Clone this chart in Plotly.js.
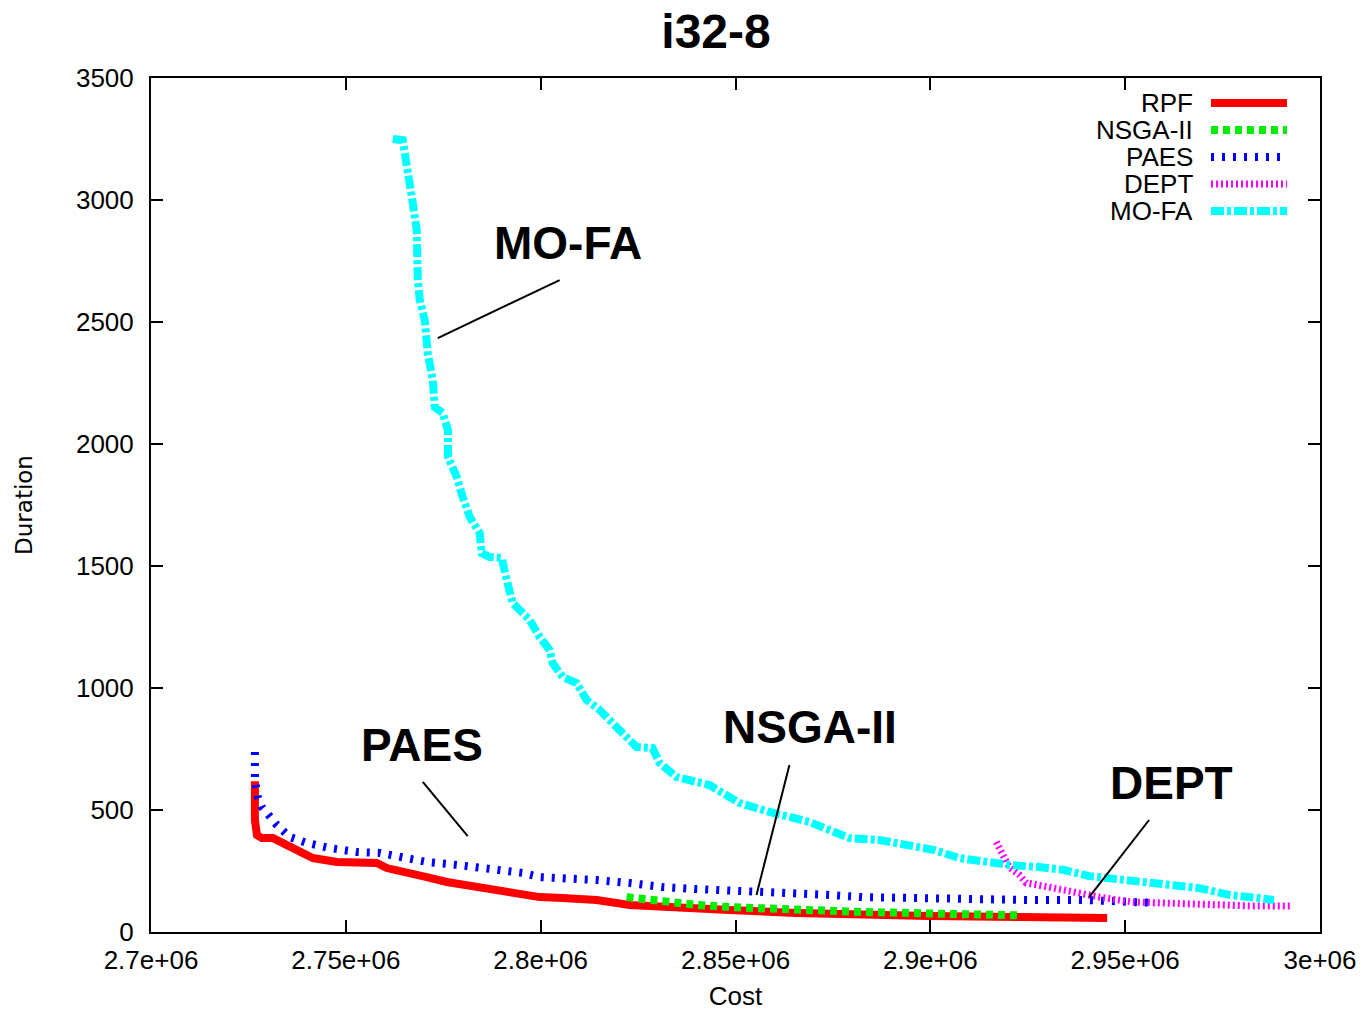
<!DOCTYPE html>
<html>
<head>
<meta charset="utf-8">
<script src="https://cdn.plot.ly/plotly-3.0.1.min.js"></script>
<style>html,body{margin:0;padding:0;background:#fff;}#chart{width:1364px;height:1011px;}</style>
</head>
<body>
<div id="chart"></div>
<script>
// ---- data ----
const rpfCost = [2726670, 2726670, 2727200, 2728460, 2731280, 2733850, 2738200, 2741540, 2747690, 2757950, 2760510, 2765640, 2770770, 2775900, 2784360, 2791280, 2799740, 2805640, 2814360, 2822820, 2835640, 2848460, 2865640, 2882560, 2899740, 2922820, 2945380];
const rpfDur  = [618, 459, 397, 385, 385, 365, 328, 303, 287, 283, 262, 246, 225, 205, 184, 164, 143, 139, 131, 111, 98, 90, 78, 70, 66, 61, 57];

const nsgaCost = [2822050, 2831280, 2840000, 2848460, 2865640, 2882560, 2899740, 2922820];
const nsgaDur  = [143, 123, 111, 102, 90, 82, 76, 68];

const paesCost = [2726670, 2726670, 2727440, 2728460, 2729740, 2732310, 2735640, 2740000, 2745900, 2752820, 2758720, 2763840, 2770770, 2778460, 2786920, 2795380, 2799740, 2805640, 2814360, 2822820, 2831280, 2840000, 2848460, 2856920, 2865640, 2874100, 2882560, 2891280, 2899740, 2909220, 2926150, 2939990, 2947680, 2957940];
const paesDur  = [738, 623, 553, 512, 488, 438, 389, 365, 344, 328, 324, 307, 287, 275, 262, 242, 225, 221, 213, 201, 184, 176, 172, 164, 160, 152, 143, 139, 139, 135, 131, 131, 123, 119];

const deptCost = [2916910, 2918450, 2920250, 2922820, 2924610, 2930500, 2936400, 2943330, 2951790, 2958710, 2968970, 2981790, 2992560];
const deptDur  = [369, 324, 266, 234, 201, 184, 164, 143, 123, 119, 111, 107, 107];

const mofaCost = [2762050, 2764610, 2767180, 2768200, 2768460, 2768970, 2770250, 2771020, 2772300, 2772820, 2774870, 2776200, 2776200, 2778460, 2780000, 2781800, 2784360, 2784870, 2786920, 2790000, 2791280, 2792820, 2797180, 2799740, 2802300, 2803070, 2805640, 2809230, 2811790, 2815120, 2818460, 2822050, 2824610, 2828710, 2830510, 2834870, 2840000, 2843330, 2846660, 2851020, 2858710, 2868970, 2874100, 2879230, 2886920, 2894610, 2901020, 2907430, 2913840, 2920250, 2927940, 2934350, 2940760, 2948450, 2956140, 2963830, 2968960, 2976660, 2984350, 2988200];
const mofaDur  = [3250, 3245, 2987, 2877, 2672, 2590, 2508, 2373, 2262, 2151, 2127, 2057, 1947, 1865, 1783, 1701, 1635, 1553, 1537, 1533, 1443, 1348, 1279, 1209, 1156, 1102, 1045, 1020, 951, 910, 856, 799, 758, 754, 693, 635, 615, 602, 570, 529, 492, 451, 418, 385, 377, 357, 336, 303, 287, 275, 266, 254, 229, 213, 201, 189, 180, 152, 139, 131];

const seriesNames = ['RPF', 'NSGA-II', 'PAES', 'DEPT', 'MO-FA'];
const xTickVals = [2700000, 2750000, 2800000, 2850000, 2900000, 2950000, 3000000];
const xTickText = ['2.7e+06', '2.75e+06', '2.8e+06', '2.85e+06', '2.9e+06', '2.95e+06', '3e+06'];
const yTickVals = [0, 500, 1000, 1500, 2000, 2500, 3000, 3500];

// label annotations and pointer lines
const labelText = ['MO-FA', 'PAES', 'NSGA-II', 'DEPT'];
const labelCost = [2806900, 2769500, 2869000, 2961800];
const labelDur  = [2824, 766, 840, 611];
const pointerFromCost = [2804870, 2769740, 2863840, 2956140];
const pointerFromDur  = [2672, 615, 684, 459];
const pointerToCost   = [2773590, 2781280, 2855380, 2940760];
const pointerToDur    = [2434, 393, 152, 143];

// ---- styles ----
const styles = [
  {color: '#ff0000', width: 8, dash: 'solid'},
  {color: '#00ee00', width: 8, dash: '7px,5px'},
  {color: '#0000ff', width: 8, dash: '3px,8px'},
  {color: '#ff00ff', width: 7, dash: '2px,3px'},
  {color: '#00ffff', width: 8, dash: '13px,3px,4px,3px'}
];
const xs = [rpfCost, nsgaCost, paesCost, deptCost, mofaCost];
const ys = [rpfDur, nsgaDur, paesDur, deptDur, mofaDur];

const traces = seriesNames.map((n, i) => ({
  x: xs[i], y: ys[i], name: n, type: 'scatter', mode: 'lines',
  line: {color: styles[i].color, width: styles[i].width, dash: styles[i].dash},
  showlegend: false
}));

const FONT = 'Liberation Sans, Arial, Helvetica, sans-serif';
const annotations = [];
const shapes = [];

labelText.forEach((t, i) => {
  annotations.push({
    x: labelCost[i], y: labelDur[i], xref: 'x', yref: 'y',
    text: '<b>' + t + '</b>', showarrow: false,
    font: {family: FONT, size: 46, color: '#000'},
    xanchor: 'center', yanchor: 'middle'
  });
  shapes.push({
    type: 'line', xref: 'x', yref: 'y',
    x0: pointerFromCost[i], y0: pointerFromDur[i], x1: pointerToCost[i], y1: pointerToDur[i],
    line: {color: '#000', width: 2}
  });
});

// custom legend (text left of sample, gnuplot style)
const plotL = 151, plotR = 1320, plotT = 78, plotB = 932;
const px2x = p => (p - plotL) / (plotR - plotL);
const py2y = p => (plotB - p) / (plotB - plotT);
const legendRows = [103, 130, 157, 184, 211];
seriesNames.forEach((n, i) => {
  annotations.push({
    x: px2x(1195), y: py2y(legendRows[i]), xref: 'paper', yref: 'paper',
    text: n, showarrow: false, xanchor: 'right', yanchor: 'middle',
    font: {family: FONT, size: 26, color: '#000'}
  });
  shapes.push({
    type: 'line', xref: 'paper', yref: 'paper',
    x0: px2x(1211), x1: px2x(1287), y0: py2y(legendRows[i]), y1: py2y(legendRows[i]),
    line: {color: styles[i].color, width: styles[i].width, dash: styles[i].dash}
  });
});

const axisCommon = {
  showgrid: false, zeroline: false, showline: true, linecolor: '#000', linewidth: 2,
  mirror: 'ticks', ticks: 'inside', ticklen: 12, tickwidth: 2, tickcolor: '#000',
  tickfont: {family: FONT, size: 26, color: '#000'}
};

const layout = {
  width: 1364, height: 1011,
  margin: {l: plotL, r: 1364 - plotR, t: plotT, b: 1011 - plotB},
  paper_bgcolor: '#fff', plot_bgcolor: '#fff',
  title: {text: '<b>i32-8</b>', font: {family: FONT, size: 48, color: '#000'},
          x: 716 / 1364, xanchor: 'center', y: 1 - 31 / 1011, yanchor: 'middle'},
  xaxis: Object.assign({}, axisCommon, {
    range: [2700000, 3000000], tickmode: 'array', tickvals: xTickVals, ticktext: xTickText,
    ticklabelstandoff: 4,
    title: {text: 'Cost', font: {family: FONT, size: 26, color: '#000'}, standoff: 22}
  }),
  yaxis: Object.assign({}, axisCommon, {
    range: [0, 3500], tickmode: 'array', tickvals: yTickVals,
    ticklabelstandoff: 10,
    title: {text: 'Duration', font: {family: 'DejaVu Sans, sans-serif', size: 23, color: '#000'}, standoff: 37}
  }),
  annotations: annotations,
  shapes: shapes,
  showlegend: false
};

Plotly.newPlot('chart', traces, layout, {displayModeBar: false, staticPlot: true});
</script>
</body>
</html>
